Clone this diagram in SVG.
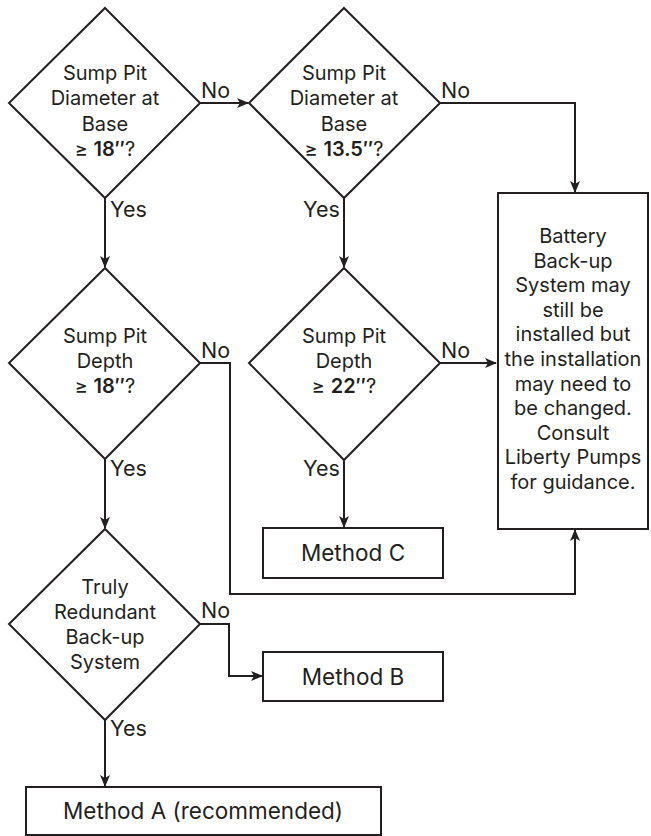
<svg xmlns="http://www.w3.org/2000/svg" width="651" height="836" viewBox="0 0 651 836">
<defs>
<marker id="arr" markerWidth="12" markerHeight="10" refX="11" refY="5" orient="auto" markerUnits="userSpaceOnUse">
<path d="M0,0 L12,5 L0,10 L3,5 Z" fill="#231f20"/>
</marker>
</defs>
<style>
.shape{fill:#fff;stroke:#231f20;stroke-width:2}
.line{fill:none;stroke:#231f20;stroke-width:2}
text{font-family:Inter,"Open Sans",sans-serif;fill:#231f20;font-size:20px}
.c{text-anchor:middle}
.lbl{font-size:21.5px}
.box{font-size:22.5px}
.b{font-weight:600}
</style>
<rect width="651" height="836" fill="#fff"/>
<g id="connectors">
<path class="line" d="M200,103 H248" marker-end="url(#arr)"/>
<path class="line" d="M440,103 H575 V192" marker-end="url(#arr)"/>
<path class="line" d="M105,198 V267" marker-end="url(#arr)"/>
<path class="line" d="M344,198 V267" marker-end="url(#arr)"/>
<path class="line" d="M200,363 H230 V594 H575 V530" marker-end="url(#arr)"/>
<path class="line" d="M440,363 H496" marker-end="url(#arr)"/>
<path class="line" d="M344,460 V527" marker-end="url(#arr)"/>
<path class="line" d="M105,459 V528" marker-end="url(#arr)"/>
<path class="line" d="M200,624 H229 V676 H262" marker-end="url(#arr)"/>
<path class="line" d="M105,720 V786" marker-end="url(#arr)"/>
<text class="lbl" x="201" y="98">No</text>
<text class="lbl" x="441" y="98">No</text>
<text class="lbl" x="110" y="217">Yes</text>
<text class="lbl" x="303" y="217">Yes</text>
<text class="lbl" x="201" y="358">No</text>
<text class="lbl" x="441" y="358">No</text>
<text class="lbl" x="110" y="476">Yes</text>
<text class="lbl" x="303" y="476">Yes</text>
<text class="lbl" x="201" y="618">No</text>
<text class="lbl" x="110" y="736">Yes</text>
</g>
<g id="d1">
<polygon class="shape" points="105,8 200,103 105,198 9,103"/>
<text class="c" x="105" y="80">Sump Pit</text>
<text class="c" x="105" y="105">Diameter at</text>
<text class="c" x="105" y="131">Base</text>
<text class="c" x="105" y="156">≥ <tspan class="b">18″</tspan>?</text>
</g>
<g id="d2">
<polygon class="shape" points="344,8 440,103 344,198 249,103"/>
<text class="c" x="344" y="80">Sump Pit</text>
<text class="c" x="344" y="105">Diameter at</text>
<text class="c" x="344" y="131">Base</text>
<text class="c" x="344" y="156">≥ <tspan class="b">13.5″</tspan>?</text>
</g>
<g id="d3">
<polygon class="shape" points="105,268 200,363 105,459 9,363"/>
<text class="c" x="105" y="343">Sump Pit</text>
<text class="c" x="105" y="368">Depth</text>
<text class="c" x="105" y="393">≥ <tspan class="b">18″</tspan>?</text>
</g>
<g id="d4">
<polygon class="shape" points="344,268 440,363 344,460 249,363"/>
<text class="c" x="344" y="343">Sump Pit</text>
<text class="c" x="344" y="368">Depth</text>
<text class="c" x="344" y="393">≥ <tspan class="b">22″</tspan>?</text>
</g>
<g id="d5">
<polygon class="shape" points="105,529 200,624 105,720 9,624"/>
<text class="c" x="105" y="594">Truly</text>
<text class="c" x="105" y="619">Redundant</text>
<text class="c" x="105" y="644">Back-up</text>
<text class="c" x="105" y="669">System</text>
</g>
<g id="battery">
<rect class="shape" x="498" y="193" width="150" height="336"/>
<text class="c" x="573" y="243">Battery</text>
<text class="c" x="573" y="268">Back-up</text>
<text class="c" x="573" y="292">System may</text>
<text class="c" x="573" y="317">still be</text>
<text class="c" x="573" y="341">installed but</text>
<text class="c" x="573" y="366">the installation</text>
<text class="c" x="573" y="391">may need to</text>
<text class="c" x="573" y="415">be changed.</text>
<text class="c" x="573" y="440">Consult</text>
<text class="c" x="573" y="464">Liberty Pumps</text>
<text class="c" x="573" y="489">for guidance.</text>
</g>
<g id="methodC">
<rect class="shape" x="263" y="528" width="180" height="50"/>
<text class="c box" x="353" y="561">Method C</text>
</g>
<g id="methodB">
<rect class="shape" x="263" y="652" width="180" height="49"/>
<text class="c box" x="353" y="685">Method B</text>
</g>
<g id="methodA">
<rect class="shape" x="26" y="787" width="355" height="48"/>
<text class="c box" x="203" y="819">Method A (recommended)</text>
</g>
</svg>
